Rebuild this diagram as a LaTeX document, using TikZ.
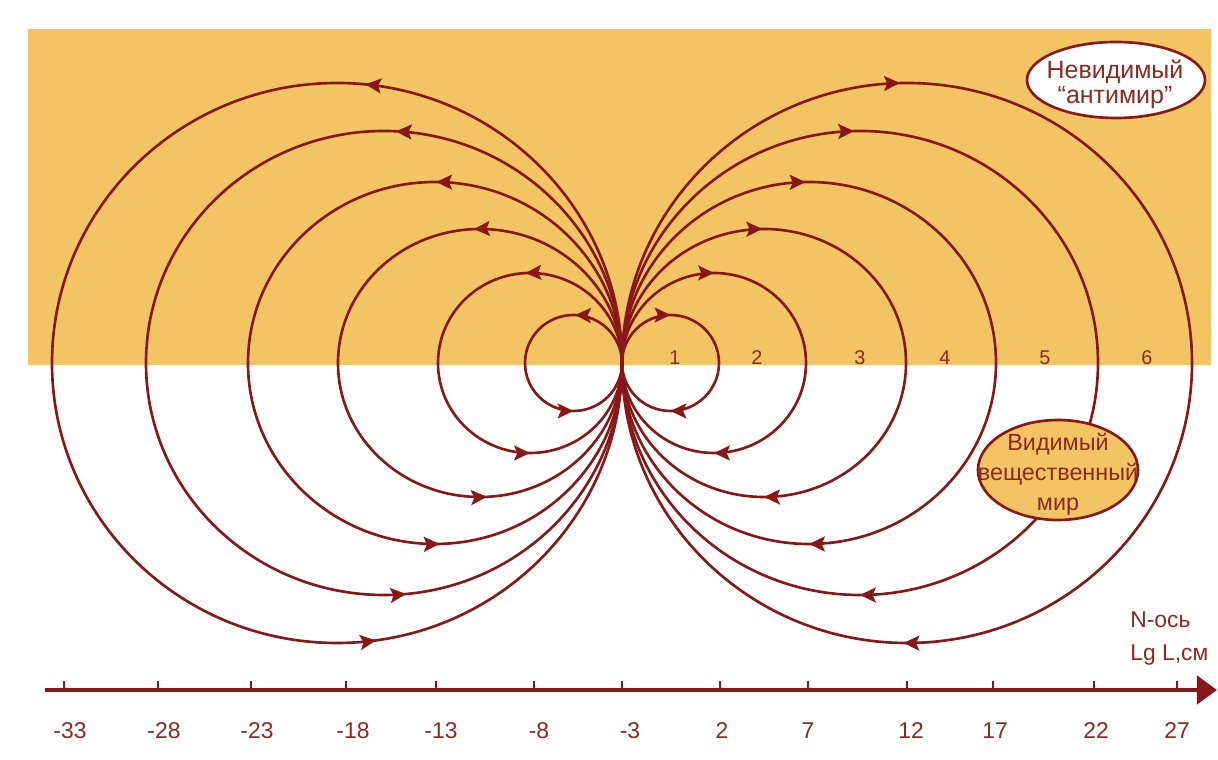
\documentclass[tikz,border=0pt]{standalone}
\usepackage{fontspec}
\setmainfont{Liberation Sans}
\usetikzlibrary{arrows.meta,decorations.markings,shapes.geometric}
\definecolor{dred}{RGB}{136,24,24}
\definecolor{txt}{RGB}{140,42,30}
\definecolor{ochre}{RGB}{242,196,100}
\tikzset{
  >={Stealth[length=9pt,width=8.5pt,inset=1.8pt]},
  flow/.style n args={2}{draw=dred, line width=1.5pt, postaction={decorate},
    decoration={markings, mark=at position #1 with {\arrow{>}}, mark=at position #2 with {\arrow{>}}}},
  axisline/.style={draw=dred, line width=2.8pt, -{Triangle[length=11.5pt,width=16pt]}},
  tick/.style={draw=dred, line width=1.2pt},
  axlabel/.style={text=txt, font=\fontsize{13}{15}\selectfont, inner sep=0pt},
  numlabel/.style={text=txt, font=\fontsize{11.3}{13}\selectfont, inner sep=0pt},
  bubble/.style={text=txt, font=\fontsize{13.3}{17}\selectfont, align=center, inner sep=0pt},
  bubbletop/.style={text=txt, font=\fontsize{14.2}{14.4}\selectfont, align=center, inner sep=0pt},
}
\begin{document}
\begin{tikzpicture}[x=0.02cm, y=0.02cm]
\useasboundingbox (0,0) rectangle (1218,760);
\fill[white] (0,0) rectangle (1218,760);
% upper (invisible antiworld) region
\fill[ochre] (28,395) rectangle (1211,731);
\coordinate (O) at (622,397);
% right loops (clockwise)
\foreach \r/\ry/\pt/\pb in {48.5/48/0.25/0.75, 92/90/0.25/0.75, 142/134/0.248/0.75, 187/181/0.247/0.75, 238/232/0.246/0.75, 285/280/0.246/0.752} {
  \draw[flow={\pt}{\pb}] (O) arc[start angle=180, end angle=-180, x radius=\r, y radius=\ry];
}
% left loops (counter-clockwise)
\foreach \r/\ry/\pt/\pb in {48.5/48/0.245/0.75, 92/90/0.258/0.75, 142/134/0.257/0.758, 187/181/0.249/0.754, 238/232/0.242/0.765, 285/280/0.234/0.772} {
  \draw[flow={\pt}{\pb}] (O) arc[start angle=0, end angle=360, x radius=\r, y radius=\ry];
}
% loop numbers
\node[numlabel] (n1) at (675,402) {1};
\node[numlabel] (n2) at (757,402) {2};
\node[numlabel] (n3) at (860,402) {3};
\node[numlabel] (n4) at (945,402) {4};
\node[numlabel] (n5) at (1045,402) {5};
\node[numlabel] (n6) at (1147,402) {6};
% bubbles
\draw[draw=dred, fill=white, line width=1.5pt] (1116,680) ellipse[x radius=89, y radius=38];
\node[bubbletop] (anti) at (1115,676) {Невидимый\\“антимир”};
\draw[draw=dred, fill=ochre, line width=1.5pt] (1058,290) ellipse[x radius=80, y radius=50];
\node[bubble] (vis) at (1058,286) {Видимый\\вещественный\\мир};
% axis
\coordinate (A0) at (45,70);
\coordinate (A1) at (1217,70);
\draw[axisline] (A0) -- (A1);
\foreach \x/\l/\lx in {64/-33/70, 158/-28/164, 251/-23/257, 346/-18/353, 436/-13/441, 534/-8/539, 622/-3/630, 720/2/722, 808/7/808, 907/12/911, 993/17/995, 1094/22/1096, 1177/27/1177} {
  \coordinate (t\x) at (\x,70);
  \coordinate (u\x) at (\x,79);
  \draw[tick] (t\x) -- (u\x);
  \node[axlabel] (l\x) at (\lx,29) {\l};
}
\node[axlabel, anchor=west] (nax) at (1130,140) {N-ось};
\node[axlabel, anchor=west] (lgl) at (1130,105) {Lg L,см};
\end{tikzpicture}
\end{document}
